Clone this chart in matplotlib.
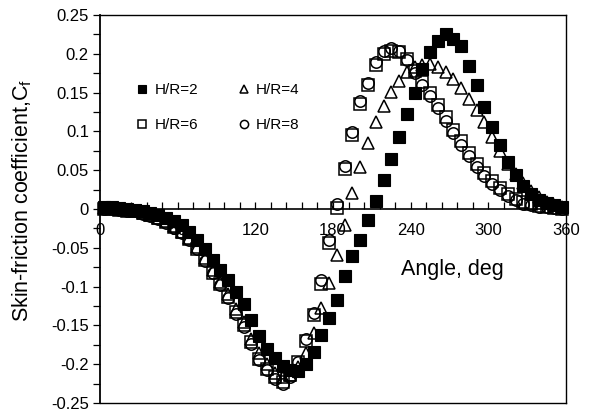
import numpy as np
import matplotlib
matplotlib.use("Agg")
import matplotlib.pyplot as plt
from matplotlib.ticker import MultipleLocator, FuncFormatter

plt.rcParams['font.family'] = ['Liberation Sans', 'DejaVu Sans']
plt.rcParams['axes.unicode_minus'] = False

# cell-centre angles around the cylinder, deg
angle = np.arange(3, 360, 6)

cf_hr2 = [0.002, 0.002, 0.001, 0.000, -0.001, -0.003, -0.005, -0.008, -0.011, -0.015,
          -0.020, -0.029, -0.040, -0.052, -0.066, -0.079, -0.092, -0.107, -0.122, -0.143,
          -0.164, -0.180, -0.192, -0.202, -0.208, -0.209, -0.200, -0.184, -0.162, -0.140,
          -0.117, -0.086, -0.060, -0.040, -0.014, 0.010, 0.038, 0.064, 0.093, 0.122,
          0.150, 0.180, 0.202, 0.217, 0.226, 0.219, 0.210, 0.184, 0.160, 0.132,
          0.106, 0.083, 0.061, 0.044, 0.030, 0.019, 0.012, 0.008, 0.005, 0.003]

cf_hr4 = [0.001, 0.001, 0.000, -0.001, -0.003, -0.005, -0.008, -0.012, -0.016, -0.022,
          -0.029, -0.037, -0.049, -0.063, -0.078, -0.094, -0.110, -0.129, -0.146, -0.167,
          -0.186, -0.200, -0.211, -0.217, -0.214, -0.203, -0.185, -0.160, -0.128, -0.095,
          -0.059, -0.021, 0.020, 0.054, 0.085, 0.112, 0.133, 0.151, 0.165, 0.176,
          0.183, 0.186, 0.187, 0.183, 0.177, 0.168, 0.156, 0.142, 0.127, 0.112,
          0.093, 0.075, 0.058, 0.045, 0.034, 0.023, 0.015, 0.009, 0.005, 0.002]

cf_hr6 = [0.000, 0.000, -0.001, -0.002, -0.003, -0.005, -0.008, -0.012, -0.017, -0.023,
          -0.030, -0.039, -0.051, -0.066, -0.082, -0.097, -0.113, -0.133, -0.150, -0.172,
          -0.193, -0.206, -0.217, -0.223, -0.214, -0.197, -0.170, -0.137, -0.096, -0.044,
          0.001, 0.051, 0.095, 0.135, 0.160, 0.186, 0.200, 0.204, 0.202, 0.193,
          0.178, 0.164, 0.150, 0.134, 0.118, 0.102, 0.087, 0.072, 0.058, 0.046,
          0.036, 0.027, 0.019, 0.013, 0.009, 0.006, 0.004, 0.002, 0.001, 0.000]

cf_hr8 = [0.000, 0.000, -0.001, -0.002, -0.003, -0.006, -0.009, -0.013, -0.018, -0.024,
          -0.031, -0.040, -0.052, -0.067, -0.083, -0.098, -0.115, -0.135, -0.152, -0.174,
          -0.195, -0.208, -0.219, -0.226, -0.216, -0.197, -0.168, -0.134, -0.092, -0.040,
          0.006, 0.055, 0.099, 0.139, 0.163, 0.190, 0.203, 0.207, 0.204, 0.192,
          0.175, 0.160, 0.146, 0.130, 0.114, 0.098, 0.083, 0.068, 0.054, 0.042,
          0.032, 0.024, 0.017, 0.011, 0.007, 0.005, 0.003, 0.002, 0.001, 0.000]

fig = plt.figure(figsize=(5.89, 4.12), dpi=100)
ax = fig.add_axes([0.1698, 0.0218, 0.7912, 0.9418])

ms = 8.5
h2, = ax.plot(angle, cf_hr2, 's', ms=ms, mfc='black', mec='black', mew=0.8,
              clip_on=False, label='H/R=2')
h4, = ax.plot(angle, cf_hr4, '^', ms=ms, mfc='none', mec='black', mew=1.1,
              clip_on=False, label='H/R=4')
h6, = ax.plot(angle, cf_hr6, 's', ms=ms - 0.3, mfc='none', mec='black', mew=1.1,
              clip_on=False, label='H/R=6')
h8, = ax.plot(angle, cf_hr8, 'o', ms=ms - 0.3, mfc='none', mec='black', mew=1.1,
              clip_on=False, label='H/R=8')

ax.set_xlim(0, 360)
ax.set_ylim(-0.25, 0.25)

# y axis: labels on the left, ticks pointing out
ax.yaxis.set_major_locator(MultipleLocator(0.05))
ax.yaxis.set_minor_locator(MultipleLocator(0.025))
ax.yaxis.set_major_formatter(FuncFormatter(lambda v, p: '%g' % round(v, 3)))
ax.tick_params(axis='y', which='both', direction='out', length=5, width=0.9,
               labelsize=12, pad=3)
ax.tick_params(axis='x', which='both', bottom=False, labelbottom=False)
for s in ax.spines.values():
    s.set_linewidth(1.0)
ax.spines['left'].set_linewidth(1.3)

# x axis drawn along Cf = 0
xax = ax.secondary_xaxis(0, transform=ax.transData)
xax.set_xticks(np.arange(0, 361, 60))
xax.xaxis.set_minor_locator(MultipleLocator(12))
xax.tick_params(which='both', direction='in', length=5, width=0.9,
                labelsize=12, pad=10)
xax.spines['bottom'].set_linewidth(1.2)

ax.text(272, -0.078, 'Angle, deg', fontsize=15.5, ha='center', va='center')
ax.set_ylabel('Skin-friction coefficient,C$_\\mathregular{f}$', fontsize=15.5)
ax.yaxis.set_label_coords(-0.142, 0.523)

ax.legend([h2, h6, h4, h8], ['H/R=2', 'H/R=6', 'H/R=4', 'H/R=8'], ncol=2,
          frameon=False, loc='upper left', bbox_to_anchor=(0.048, 0.86),
          fontsize=11, markerscale=0.72, handlelength=0.8, handletextpad=0.4,
          columnspacing=2.6, labelspacing=1.4, numpoints=1)

fig.savefig('out.png', dpi=100)
